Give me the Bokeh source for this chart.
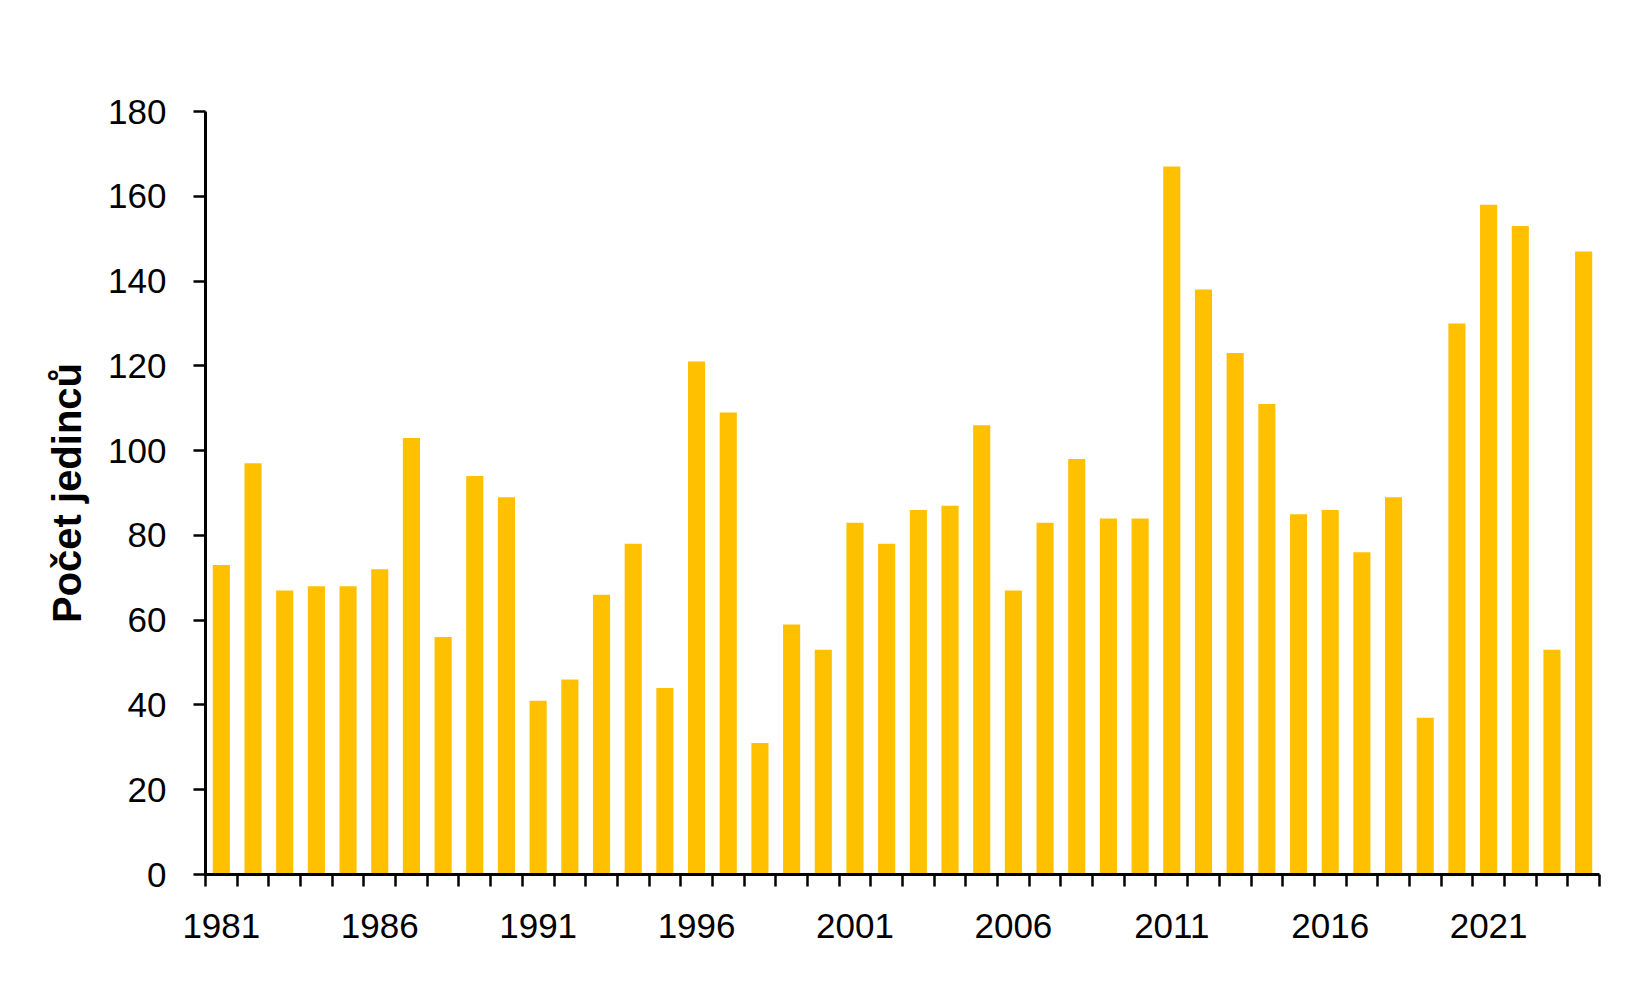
from bokeh.plotting import figure
from bokeh.models import Range1d, FixedTicker
from bokeh.embed import file_html
from bokeh.resources import INLINE

years = list(range(1981, 2025))
counts = [73, 97, 67, 68, 68, 72, 103, 56, 94, 89,
          41, 46, 66, 78, 44, 121, 109, 31, 59, 53,
          83, 78, 86, 87, 106, 67, 83, 98, 84, 84,
          167, 138, 123, 111, 85, 86, 76, 89, 37, 130,
          158, 153, 53, 147]
label_years = [1981, 1986, 1991, 1996, 2001, 2006, 2011, 2016, 2021]
y_ticks = [0, 20, 40, 60, 80, 100, 120, 140, 160, 180]
y_title = "Počet jedinců"

FONT = "Liberation Sans"

p = figure(width=1636, height=976, output_backend="svg", toolbar_location=None,
           x_range=Range1d(years[0] - 0.5, years[-1] + 0.5),
           y_range=Range1d(0, 180),
           min_border_left=205, min_border_right=37,
           min_border_top=111, min_border_bottom=102)
p.outline_line_color = None
p.xgrid.grid_line_color = None
p.ygrid.grid_line_color = None
p.background_fill_color = "white"
p.border_fill_color = "white"

p.vbar(x=years, top=counts, width=0.54, fill_color="#FFC000", line_color=None)

boundaries = [y - 0.5 for y in years] + [years[-1] + 0.5]

xa = p.xaxis[0]
xa.ticker = FixedTicker(ticks=label_years, minor_ticks=boundaries)
xa.axis_line_width = 3
xa.axis_line_color = "black"
xa.major_tick_out = 0
xa.major_tick_in = 0
xa.minor_tick_out = 12
xa.minor_tick_in = 0
xa.minor_tick_line_width = 2.5
xa.minor_tick_line_color = "black"
xa.major_label_standoff = 27
xa.major_label_text_font = FONT
xa.major_label_text_font_size = "35px"
xa.major_label_text_color = "black"

ya = p.yaxis[0]
ya.ticker = FixedTicker(ticks=y_ticks, minor_ticks=[])
ya.axis_line_width = 3
ya.axis_line_color = "black"
ya.major_tick_out = 12
ya.major_tick_in = 0
ya.major_tick_line_width = 2.5
ya.major_tick_line_color = "black"
ya.minor_tick_line_color = None
ya.major_label_standoff = 27
ya.major_label_text_font = FONT
ya.major_label_text_font_size = "35px"
ya.major_label_text_color = "black"
ya.axis_label = y_title
ya.axis_label_text_font = FONT
ya.axis_label_text_font_size = "40px"
ya.axis_label_text_font_style = "bold"
ya.axis_label_text_color = "black"
ya.axis_label_standoff = 16

open("out.html", "w").write(file_html(p, INLINE))
